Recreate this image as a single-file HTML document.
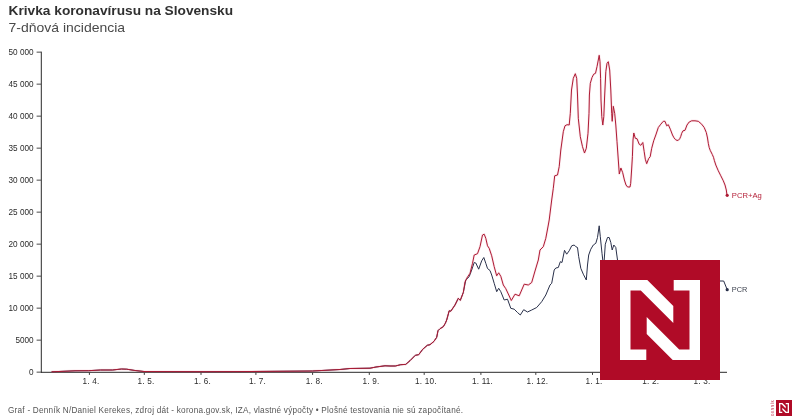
<!DOCTYPE html>
<html lang="sk">
<head>
<meta charset="utf-8">
<title>Krivka koronavírusu na Slovensku</title>
<style>
html,body{margin:0;padding:0;background:#fff;}
body{width:800px;height:420px;overflow:hidden;position:relative;font-family:"Liberation Sans",sans-serif;}
svg{position:absolute;left:0;top:0;display:block;will-change:transform;opacity:0.999;}
text{font-family:"Liberation Sans",sans-serif;}
</style>
</head>
<body>
<svg width="800" height="420" viewBox="0 0 800 420">
<rect width="800" height="420" fill="#fff"/>
<text x="8.6" y="14.8" font-size="13.1" font-weight="bold" fill="#303030" textLength="224.5" lengthAdjust="spacingAndGlyphs">Krivka koronavírusu na Slovensku</text>
<text x="8.6" y="31.7" font-size="13.2" fill="#4a4a4a" textLength="116.5" lengthAdjust="spacingAndGlyphs">7-dňová incidencia</text>
<g stroke="#2a2a2a" stroke-width="1" fill="none">
<path d="M41.3 51.6V372.8"/>
<path d="M41 372.3H727"/>
<path d="M36.6 52.15H41M36.6 84.15H41M36.6 116.15H41M36.6 148.15H41M36.6 180.15H41M36.6 212.15H41M36.6 244.15H41M36.6 276.15H41M36.6 308.15H41M36.6 340.15H41M36.6 372.15H41" stroke="#4a4a4a"/>
<path d="M89.4 372.5V374.9M144.3 372.5V374.9M201.0 372.5V374.9M255.9 372.5V374.9M312.6 372.5V374.9M369.3 372.5V374.9M424.2 372.5V374.9M480.9 372.5V374.9M535.8 372.5V374.9M592.5 372.5V374.9M649.2 372.5V374.9M700.5 372.5V374.9" stroke="#3a3a3a"/>
</g>
<g font-size="8.2" fill="#2b2b2b" text-anchor="end">
<text x="33.6" y="55.1">50 000</text>
<text x="33.6" y="87.1">45 000</text>
<text x="33.6" y="119.1">40 000</text>
<text x="33.6" y="151.1">35 000</text>
<text x="33.6" y="183.1">30 000</text>
<text x="33.6" y="215.1">25 000</text>
<text x="33.6" y="247.1">20 000</text>
<text x="33.6" y="279.1">15 000</text>
<text x="33.6" y="311.1">10 000</text>
<text x="33.6" y="343.1">5000</text>
<text x="33.6" y="375.1">0</text>
</g>
<g font-size="8.2" fill="#2b2b2b" text-anchor="middle" letter-spacing="0.22">
<text x="91.0" y="384">1. 4.</text>
<text x="145.9" y="384">1. 5.</text>
<text x="202.6" y="384">1. 6.</text>
<text x="257.5" y="384">1. 7.</text>
<text x="314.2" y="384">1. 8.</text>
<text x="370.9" y="384">1. 9.</text>
<text x="425.8" y="384">1. 10.</text>
<text x="482.5" y="384">1. 11.</text>
<text x="537.4" y="384">1. 12.</text>
<text x="594.1" y="384">1. 1.</text>
<text x="650.8" y="384">1. 2.</text>
<text x="702.1" y="384">1. 3.</text>
</g>
<path d="M52.0 371.8 L75.0 370.8 L88.5 370.7 L100.5 370.0 L112.5 370.0 L121.5 369.0 L126.7 369.2 L135.0 370.5 L144.0 371.5 L165.0 371.6 L200.0 371.7 L240.0 371.6 L290.0 371.2 L312.5 371.0 L340.0 369.5 L350.0 368.5 L370.0 368.2 L376.0 367.0 L385.0 365.8 L390.0 366.0 L395.3 366.0 L400.7 364.7 L405.7 364.4 L410.0 360.7 L415.3 355.3 L418.7 354.7 L422.7 349.3 L427.3 345.3 L430.0 344.7 L434.0 341.3 L436.7 337.3 L438.0 330.7 L440.0 328.7 L443.3 326.7 L445.3 323.3 L446.7 320.0 L449.2 310.8 L450.8 311.2 L455.0 305.0 L458.3 298.3 L460.3 300.3 L463.3 292.5 L465.8 280.0 L469.2 276.7 L471.7 270.0 L474.2 262.5 L475.8 263.0 L478.7 269.2 L481.7 260.8 L483.8 257.5 L485.8 263.3 L487.5 268.5 L490.0 270.5 L491.7 275.0 L494.2 283.3 L496.7 291.7 L498.7 288.3 L500.8 291.7 L504.2 300.0 L507.5 299.2 L510.8 308.3 L514.2 309.2 L517.5 312.5 L520.3 315.0 L523.7 309.7 L527.5 312.0 L531.7 310.0 L536.7 307.5 L541.7 301.7 L545.8 295.0 L550.0 285.0 L551.7 283.3 L554.2 270.0 L555.8 268.0 L558.3 267.5 L560.3 261.7 L562.0 262.5 L564.5 250.3 L566.7 254.2 L569.2 250.8 L571.7 245.8 L574.2 245.0 L575.8 246.7 L577.5 247.5 L578.7 256.7 L580.8 268.3 L583.3 274.2 L586.3 280.0 L587.5 265.0 L588.7 255.0 L590.8 249.2 L593.3 245.0 L595.8 243.3 L597.5 237.5 L599.2 225.8 L600.3 236.7 L602.0 253.3 L603.0 262.0 L604.2 260.0 L605.3 244.2 L607.5 237.5 L609.2 237.5 L610.8 242.5 L612.2 250.0 L613.8 245.0 L615.8 247.5 L617.5 260.0 L619.0 268.0 L622.0 272.0 L626.0 266.0 L630.0 270.0 L636.0 276.0 L642.0 281.0 L650.0 280.0 L658.0 277.0 L666.0 274.0 L674.0 272.0 L682.0 273.0 L690.0 275.0 L698.0 277.0 L706.0 279.0 L714.0 281.0 L723.7 281.0 L727.2 289.7" fill="none" stroke="#29304a" stroke-width="1" stroke-linejoin="round" stroke-linecap="round"/>
<path d="M52.0 371.8 L75.0 370.8 L88.5 370.7 L100.5 370.0 L112.5 370.0 L121.5 369.0 L126.7 369.2 L135.0 370.5 L144.0 371.5 L165.0 371.6 L200.0 371.7 L240.0 371.6 L290.0 371.2 L312.5 371.0 L340.0 369.5 L350.0 368.5 L370.0 368.2 L376.0 367.0 L385.0 365.8 L390.0 366.0 L395.3 366.0 L400.7 364.7 L405.7 364.4 L410.0 360.7 L415.3 355.3 L418.7 354.7 L422.7 349.3 L427.3 345.3 L430.0 344.7 L434.0 341.3 L436.7 337.3 L438.0 330.7 L440.0 328.7 L443.3 326.7 L445.3 323.3 L446.7 320.0 L449.2 310.8 L450.8 311.2 L455.0 305.0 L458.3 298.3 L460.3 300.3 L463.3 292.5 L465.0 282.0 L466.7 278.3 L470.0 273.3 L472.5 263.3 L474.2 255.0 L477.5 253.7 L480.0 246.7 L482.5 235.0 L484.2 234.2 L485.8 238.3 L487.5 245.8 L489.2 248.3 L491.7 255.8 L494.2 266.7 L496.7 275.8 L498.7 272.8 L500.8 276.3 L503.3 285.0 L505.8 288.7 L508.3 294.0 L511.3 300.5 L515.0 294.2 L519.2 295.8 L521.7 290.0 L524.2 284.2 L528.3 285.0 L531.7 282.5 L535.0 271.0 L538.3 260.0 L540.0 250.0 L543.3 246.7 L545.8 238.3 L548.3 225.0 L549.2 220.0 L551.7 200.0 L553.3 188.3 L554.7 175.8 L557.5 175.0 L559.2 166.7 L560.8 150.0 L563.3 131.7 L565.0 125.8 L567.0 124.7 L569.2 125.0 L570.3 113.3 L571.5 90.0 L573.3 78.3 L575.3 73.7 L576.7 78.3 L577.5 95.0 L578.3 118.3 L580.3 136.7 L582.5 146.7 L584.5 153.0 L586.3 148.3 L588.0 133.3 L589.0 113.3 L589.4 95.0 L590.3 83.3 L592.0 77.5 L593.7 74.2 L595.5 73.3 L597.0 66.7 L599.2 55.3 L600.0 61.7 L600.6 78.3 L601.0 100.0 L601.8 116.7 L602.8 125.0 L603.8 116.7 L604.6 97.0 L605.8 71.7 L607.0 63.3 L608.3 61.7 L609.7 70.0 L610.8 90.0 L611.7 113.3 L612.2 121.3 L613.3 106.3 L614.7 113.3 L615.8 125.0 L617.0 141.7 L618.3 160.0 L619.3 174.0 L620.9 168.0 L622.7 172.7 L624.4 180.0 L626.0 185.0 L627.6 187.0 L630.0 187.0 L630.7 183.3 L631.6 170.0 L632.4 156.7 L633.0 140.0 L633.8 133.0 L635.3 138.3 L637.0 138.7 L639.2 144.2 L640.8 145.3 L642.8 142.5 L644.2 151.7 L645.3 159.2 L646.7 163.7 L648.7 158.5 L650.2 156.7 L651.7 148.3 L653.7 140.8 L655.8 135.0 L658.3 127.5 L660.8 124.2 L663.3 121.3 L665.0 121.3 L666.7 125.8 L668.3 124.7 L670.3 129.2 L672.5 135.0 L674.0 137.8 L675.5 139.6 L677.0 140.4 L678.3 140.3 L679.7 138.8 L680.8 136.3 L681.7 133.3 L683.0 130.8 L685.0 130.3 L687.0 125.0 L689.2 122.0 L691.7 120.8 L695.0 120.8 L698.3 121.3 L701.7 124.2 L704.2 127.5 L706.3 132.5 L707.5 138.0 L708.3 143.3 L709.2 147.5 L710.2 150.3 L712.3 154.5 L713.5 157.3 L714.3 160.3 L715.8 165.0 L718.3 170.8 L720.8 175.8 L723.3 180.8 L725.0 185.0 L726.3 190.0 L727.0 195.3" fill="none" stroke="#ee6a86" stroke-opacity="0.16" stroke-width="2.4" stroke-linejoin="round" stroke-linecap="round"/>
<path d="M52.0 371.8 L75.0 370.8 L88.5 370.7 L100.5 370.0 L112.5 370.0 L121.5 369.0 L126.7 369.2 L135.0 370.5 L144.0 371.5 L165.0 371.6 L200.0 371.7 L240.0 371.6 L290.0 371.2 L312.5 371.0 L340.0 369.5 L350.0 368.5 L370.0 368.2 L376.0 367.0 L385.0 365.8 L390.0 366.0 L395.3 366.0 L400.7 364.7 L405.7 364.4 L410.0 360.7 L415.3 355.3 L418.7 354.7 L422.7 349.3 L427.3 345.3 L430.0 344.7 L434.0 341.3 L436.7 337.3 L438.0 330.7 L440.0 328.7 L443.3 326.7 L445.3 323.3 L446.7 320.0 L449.2 310.8 L450.8 311.2 L455.0 305.0 L458.3 298.3 L460.3 300.3 L463.3 292.5 L465.0 282.0 L466.7 278.3 L470.0 273.3 L472.5 263.3 L474.2 255.0 L477.5 253.7 L480.0 246.7 L482.5 235.0 L484.2 234.2 L485.8 238.3 L487.5 245.8 L489.2 248.3 L491.7 255.8 L494.2 266.7 L496.7 275.8 L498.7 272.8 L500.8 276.3 L503.3 285.0 L505.8 288.7 L508.3 294.0 L511.3 300.5 L515.0 294.2 L519.2 295.8 L521.7 290.0 L524.2 284.2 L528.3 285.0 L531.7 282.5 L535.0 271.0 L538.3 260.0 L540.0 250.0 L543.3 246.7 L545.8 238.3 L548.3 225.0 L549.2 220.0 L551.7 200.0 L553.3 188.3 L554.7 175.8 L557.5 175.0 L559.2 166.7 L560.8 150.0 L563.3 131.7 L565.0 125.8 L567.0 124.7 L569.2 125.0 L570.3 113.3 L571.5 90.0 L573.3 78.3 L575.3 73.7 L576.7 78.3 L577.5 95.0 L578.3 118.3 L580.3 136.7 L582.5 146.7 L584.5 153.0 L586.3 148.3 L588.0 133.3 L589.0 113.3 L589.4 95.0 L590.3 83.3 L592.0 77.5 L593.7 74.2 L595.5 73.3 L597.0 66.7 L599.2 55.3 L600.0 61.7 L600.6 78.3 L601.0 100.0 L601.8 116.7 L602.8 125.0 L603.8 116.7 L604.6 97.0 L605.8 71.7 L607.0 63.3 L608.3 61.7 L609.7 70.0 L610.8 90.0 L611.7 113.3 L612.2 121.3 L613.3 106.3 L614.7 113.3 L615.8 125.0 L617.0 141.7 L618.3 160.0 L619.3 174.0 L620.9 168.0 L622.7 172.7 L624.4 180.0 L626.0 185.0 L627.6 187.0 L630.0 187.0 L630.7 183.3 L631.6 170.0 L632.4 156.7 L633.0 140.0 L633.8 133.0 L635.3 138.3 L637.0 138.7 L639.2 144.2 L640.8 145.3 L642.8 142.5 L644.2 151.7 L645.3 159.2 L646.7 163.7 L648.7 158.5 L650.2 156.7 L651.7 148.3 L653.7 140.8 L655.8 135.0 L658.3 127.5 L660.8 124.2 L663.3 121.3 L665.0 121.3 L666.7 125.8 L668.3 124.7 L670.3 129.2 L672.5 135.0 L674.0 137.8 L675.5 139.6 L677.0 140.4 L678.3 140.3 L679.7 138.8 L680.8 136.3 L681.7 133.3 L683.0 130.8 L685.0 130.3 L687.0 125.0 L689.2 122.0 L691.7 120.8 L695.0 120.8 L698.3 121.3 L701.7 124.2 L704.2 127.5 L706.3 132.5 L707.5 138.0 L708.3 143.3 L709.2 147.5 L710.2 150.3 L712.3 154.5 L713.5 157.3 L714.3 160.3 L715.8 165.0 L718.3 170.8 L720.8 175.8 L723.3 180.8 L725.0 185.0 L726.3 190.0 L727.0 195.3" fill="none" stroke="#ad1b34" stroke-width="1" stroke-linejoin="round" stroke-linecap="round"/>
<circle cx="727.2" cy="195.3" r="1.6" fill="#ad1b34"/>
<circle cx="727.2" cy="289.7" r="1.6" fill="#29304a"/>
<text x="731.8" y="198" font-size="8" fill="#b5223a" textLength="30" lengthAdjust="spacingAndGlyphs">PCR+Ag</text>
<text x="731.8" y="292" font-size="8" fill="#3a3f4c" textLength="15.6" lengthAdjust="spacingAndGlyphs">PCR</text>
<rect x="600" y="260" width="120" height="120" fill="#b00b27"/>
<g transform="translate(620,280)" fill="#fff"><polygon points="0.0,0.0 27.3,0.0 53.3,26.0 53.3,43.0 20.8,10.5 10.5,10.5 10.5,69.5 26.3,69.5 26.3,80.0 0.0,80.0"/><polygon points="80.0,80.0 52.7,80.0 26.7,54.0 26.7,37.0 59.2,69.5 69.5,69.5 69.5,10.5 53.7,10.5 53.7,0.0 80.0,0.0"/></g>
<text x="8" y="413" font-size="8.2" fill="#555" textLength="455" lengthAdjust="spacing">Graf - Denník N/Daniel Kerekes, zdroj dát - korona.gov.sk, IZA, vlastné výpočty • Plošné testovania nie sú započítané.</text>
<rect x="776" y="400" width="16" height="16" fill="#b00b27"/>
<g transform="translate(779,403) scale(0.125)" fill="#fff"><polygon points="0.0,0.0 27.3,0.0 53.3,26.0 53.3,43.0 20.8,10.5 10.5,10.5 10.5,69.5 26.3,69.5 26.3,80.0 0.0,80.0"/><polygon points="80.0,80.0 52.7,80.0 26.7,54.0 26.7,37.0 59.2,69.5 69.5,69.5 69.5,10.5 53.7,10.5 53.7,0.0 80.0,0.0"/></g>
<text transform="translate(774.1,415.8) rotate(-90)" font-size="3" font-weight="bold" fill="#d05670" textLength="15.6" lengthAdjust="spacing">DENNÍK</text>
</svg>
</body>
</html>
